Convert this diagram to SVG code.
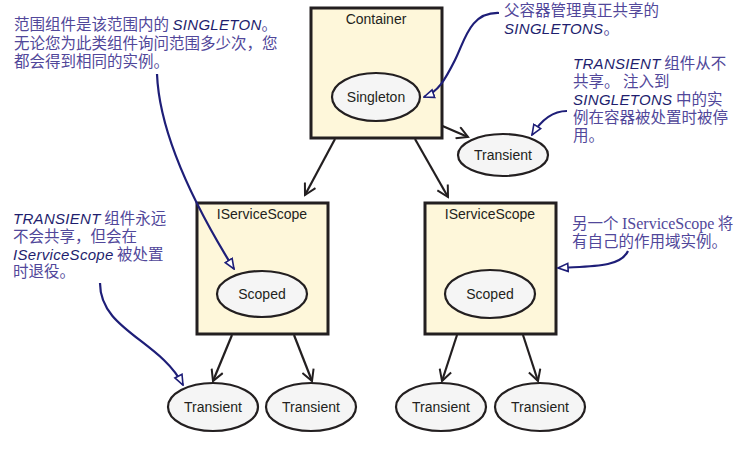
<svg xmlns="http://www.w3.org/2000/svg" width="747" height="456" viewBox="0 0 747 456">
<style>
.box{fill:#fef7da;stroke:#231f20;stroke-width:3}
.ell{fill:#f5f5f5;stroke:#231f20;stroke-width:2.2}
.lbl{font-family:"Liberation Sans",Arial,sans-serif;font-size:14px;fill:#231f20;text-anchor:middle}
.conn{fill:none;stroke:#231f20;stroke-width:2.2;marker-end:url(#vee)}
.note{font-family:"Noto Sans CJK SC","Liberation Sans",sans-serif;font-size:15.5px;fill:#51479a}
.cap{font-family:"Liberation Sans",Arial,sans-serif;font-style:italic;font-size:15px;fill:#1e1e6e;letter-spacing:0.3px}
.ser{font-family:"Liberation Serif","Times New Roman",serif;font-size:16px}
.call{fill:none;stroke:#1e1e78;stroke-width:2.2;marker-end:url(#tri)}
</style>
<defs>
<marker id="vee" viewBox="0 0 14 14" refX="12" refY="7" markerWidth="14" markerHeight="14" markerUnits="userSpaceOnUse" orient="auto">
<path d="M1,1 L12,7 L1,13" fill="none" stroke="#231f20" stroke-width="2"/>
</marker>
<marker id="tri" viewBox="0 0 12 12" refX="11" refY="6" markerWidth="12" markerHeight="12" markerUnits="userSpaceOnUse" orient="auto">
<path d="M1,2 L11,6 L1,10 Z" fill="#fff" stroke="#1e1e78" stroke-width="1.6"/>
</marker>
</defs>
<g id="connectors">
<path class="conn" d="M410,112 L468,137"/>
<path class="conn" d="M335,139 L305,195"/>
<path class="conn" d="M415,139 L448,197"/>
<path class="conn" d="M232,335 L213,381"/>
<path class="conn" d="M294,335 L312,381"/>
<path class="conn" d="M457,335 L442,381"/>
<path class="conn" d="M523,335 L538,381"/>
</g>
<g id="container">
<rect class="box" x="311" y="8" width="131" height="130"/>
<text class="lbl" x="376" y="24">Container</text>
</g>
<g id="singleton">
<ellipse class="ell" cx="376" cy="97" rx="44" ry="24"/>
<text class="lbl" x="376" y="102">Singleton</text>
</g>
<g id="transient-top">
<ellipse class="ell" cx="503" cy="155" rx="45" ry="21"/>
<text class="lbl" x="503" y="160">Transient</text>
</g>
<g id="scope-left">
<rect class="box" x="197" y="203" width="131" height="131"/>
<text class="lbl" x="262" y="219">IServiceScope</text>
</g>
<g id="scope-right">
<rect class="box" x="425" y="203" width="131" height="131"/>
<text class="lbl" x="490" y="219">IServiceScope</text>
</g>
<g id="scoped-left">
<ellipse class="ell" cx="262" cy="294" rx="45" ry="23"/>
<text class="lbl" x="262" y="299">Scoped</text>
</g>
<g id="scoped-right">
<ellipse class="ell" cx="490" cy="294" rx="45" ry="24"/>
<text class="lbl" x="490" y="299">Scoped</text>
</g>
<g id="transient-1">
<ellipse class="ell" cx="213" cy="407" rx="45" ry="24"/>
<text class="lbl" x="213" y="412">Transient</text>
</g>
<g id="transient-2">
<ellipse class="ell" cx="311" cy="407" rx="45" ry="24"/>
<text class="lbl" x="311" y="412">Transient</text>
</g>
<g id="transient-3">
<ellipse class="ell" cx="441" cy="407" rx="45" ry="24"/>
<text class="lbl" x="441" y="412">Transient</text>
</g>
<g id="transient-4">
<ellipse class="ell" cx="540" cy="407" rx="45" ry="24"/>
<text class="lbl" x="540" y="412">Transient</text>
</g>
<g id="callouts">
<path class="call" d="M157,74 Q160,150 234,269"/>
<path class="call" d="M499,13 C470,12 465,40 455,60 C445,80 438,92 424,97"/>
<path class="call" d="M567,111 C552,111 540,122 532,135"/>
<path class="call" d="M100,283 C100,330 160,340 183,385"/>
<path class="call" d="M628,251 C620,268 590,266 558,268"/>
</g>
<g id="note-1">
<text class="note" x="14" y="30">范围组件是该范围内的 <tspan class="cap">SINGLETON</tspan>。</text>
<text class="note" x="14" y="49">无论您为此类组件询问范围多少次，您</text>
<text class="note" x="14" y="67">都会得到相同的实例。</text>
</g>
<g id="note-2">
<text class="note" x="504" y="16">父容器管理真正共享的</text>
<text class="note" x="504" y="34"><tspan class="cap">SINGLETONS</tspan>。</text>
</g>
<g id="note-3">
<text class="note" x="573" y="69"><tspan class="cap">TRANSIENT</tspan> 组件从不</text>
<text class="note" x="573" y="87">共享。 注入到</text>
<text class="note" x="573" y="105"><tspan class="cap">SINGLETONS</tspan> 中的实</text>
<text class="note" x="573" y="123">例在容器被处置时被停</text>
<text class="note" x="573" y="141">用。</text>
</g>
<g id="note-4">
<text class="note" x="13" y="224"><tspan class="cap">TRANSIENT</tspan> 组件永远</text>
<text class="note" x="13" y="242">不会共享，但会在</text>
<text class="note" x="13" y="260"><tspan class="cap">IServiceScope</tspan> 被处置</text>
<text class="note" x="13" y="277">时退役。</text>
</g>
<g id="note-5">
<text class="note" x="572" y="229">另一个 <tspan class="ser">IServiceScope</tspan> 将</text>
<text class="note" x="572" y="247">有自己的作用域实例。</text>
</g>
</svg>
